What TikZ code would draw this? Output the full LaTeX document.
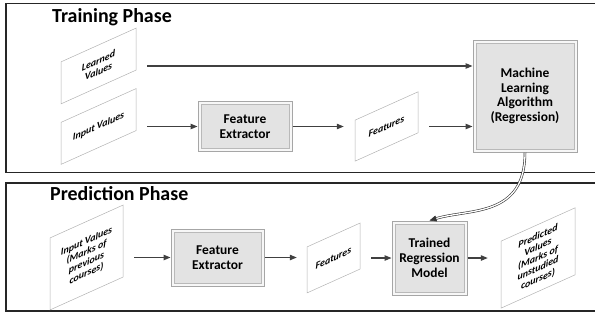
\documentclass[tikz,border=0pt]{standalone}
\usepackage{fontspec}
\setmainfont{Carlito}
\usetikzlibrary{arrows.meta}

\begin{document}
\begin{tikzpicture}[x=1bp, y=-1bp,
  panel/.style={draw=black!85, line width=1.2bp},
  title/.style={anchor=west, inner sep=0pt, font=\bfseries\fontsize{20}{22}\selectfont},
  box/.style={draw=gray!70, fill=gray!6, line width=1bp, align=center, inner sep=1pt,
    font=\bfseries\fontsize{13.5}{14.8}\selectfont,
    path picture={\draw[gray!55, fill=gray!22, line width=0.5bp]
      ([shift={(3bp,-3bp)}]path picture bounding box.north west) rectangle
      ([shift={(-3bp,3bp)}]path picture bounding box.south east);}},
  data/.style={draw=gray!60, line width=0.5bp, yslant=0.45, transform shape,
    align=center, inner sep=1pt, font=\bfseries\itshape\fontsize{10}{10.8}\selectfont},
  e/.style={-{Triangle[length=7bp, width=5.5bp]}, line width=1.1bp, draw=black!75},
  link/.style={-{Triangle[length=7bp, width=6bp]}, line width=0.6bp, draw=black!80,
    double=white, double distance=1.3bp},
  gap/.style={shorten <=11bp}]
  \useasboundingbox (0,0) rectangle (595,322);
  \draw[panel] (6,3.5) rectangle (600,172.5);
  \draw[panel] (6,183) rectangle (600,311);
  \node[title] (tt) at (52,17) {Training Phase};
  \node[title] (pt) at (50,194) {Prediction Phase};
  % training
  \node[data, minimum width=75bp, minimum height=42bp] (lv) at (98.5,66) {Learned\\Values};
  \node[data, minimum width=75bp, minimum height=42bp] (iv) at (98.5,126.5) {Input Values};
  \node[box, minimum width=94bp, minimum height=50bp] (fe1) at (245,126.5) {Feature\\Extractor};
  \node[data, minimum width=63bp, minimum height=41bp] (ft1) at (386.5,126.5) {Features};
  \node[box, minimum width=104bp, minimum height=112bp] (ml) at (525,96) {Machine\\Learning\\Algorithm\\(Regression)};
  \draw[e, gap] (lv.east |- lv.center) -- (ml.west |- lv.center);
  \draw[e, gap] (iv.east |- iv.center) -- (fe1.west);
  \draw[e, shorten >=11bp] (fe1.east) -- (ft1.west |- fe1.east);
  \draw[e, gap] (ft1.east |- ft1.center) -- (ml.west |- ft1.center);
  % prediction
  \node[data, minimum width=73bp, minimum height=72bp] (iv2) at (86.5,257.5) {Input Values\\(Marks of\\previous\\courses)};
  \node[box, minimum width=93bp, minimum height=57bp] (fe2) at (217.5,257.5) {Feature\\Extractor};
  \node[data, minimum width=53bp, minimum height=46bp] (ft2) at (333.5,258) {Features};
  \node[box, minimum width=75bp, minimum height=74bp] (trm) at (429.5,258) {Trained\\Regression\\Model};
  \node[data, minimum width=74bp, minimum height=67bp] (pv) at (538,258) {Predicted\\Values\\(Marks of\\unstudied\\courses)};
  \draw[e, gap] (iv2.east |- iv2.center) -- (fe2.west);
  \draw[e, shorten >=10bp] (fe2.east) -- (ft2.west |- fe2.east);
  \draw[e, gap] (ft2.east |- ft2.center) -- (trm.west |- ft2.center);
  \draw[e, shorten >=13bp] (trm.east) -- (pv.west |- trm.east);
  \draw[link] (ml.south) .. controls +(0,65) and +(40,-12) .. (trm.north);
\end{tikzpicture}
\end{document}
